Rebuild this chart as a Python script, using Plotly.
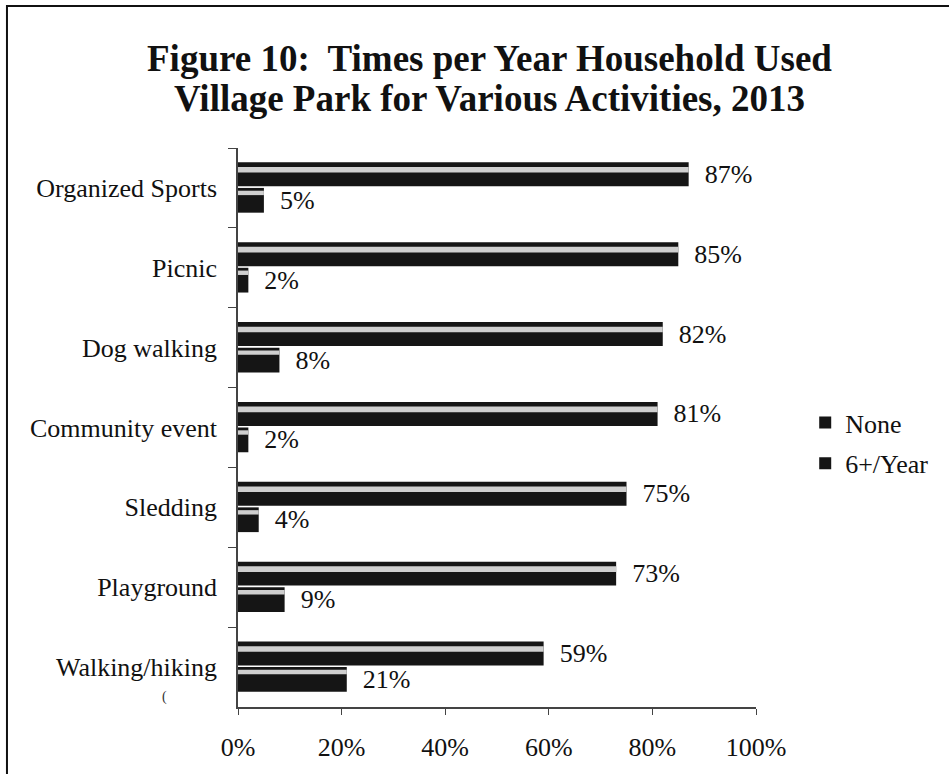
import plotly.graph_objects as go

# Survey results: share of households by frequency of park use
activities = ["Organized Sports", "Picnic", "Dog walking", "Community event",
              "Sledding", "Playground", "Walking/hiking"]
none_pct = [87, 85, 82, 81, 75, 73, 59]
six_plus_pct = [5, 2, 8, 2, 4, 9, 21]
series_names = ["None", "6+/Year"]
x_ticks = [0, 20, 40, 60, 80, 100]
x_tick_labels = ["0%", "20%", "40%", "60%", "80%", "100%"]
title_lines = ["Figure 10:  Times per Year Household Used",
               "Village Park for Various Activities, 2013"]

SERIF = "Liberation Serif, Times New Roman, serif"
DARK = "#151515"
SHINE = "#cfcfcf"
FS = 26

fig = go.Figure()

# main dark bars with value labels
for name, vals, off, wid in [(series_names[0], none_pct, -0.32, 0.30),
                             (series_names[1], six_plus_pct, 0.0, 0.31)]:
    fig.add_trace(go.Bar(
        name=name, y=activities, x=vals, orientation="h",
        offset=off, width=wid,
        marker=dict(color=DARK, line=dict(width=0)),
        text=[f"\u00a0\u00a0{v}%" for v in vals],
        textposition="outside", cliponaxis=False, constraintext="none",
        textfont=dict(family=SERIF, size=FS, color="#111"),
        legendgroup=name,
    ))

# light glossy streak along the top of each bar
for vals, off, wid in [(none_pct, -0.262, 0.07), (six_plus_pct, 0.035, 0.055)]:
    fig.add_trace(go.Bar(
        y=activities, x=vals, orientation="h",
        offset=off, width=wid,
        marker=dict(color=SHINE, line=dict(width=0)),
        showlegend=False, hoverinfo="skip",
    ))

fig.update_layout(
    width=949, height=774,
    barmode="overlay",
    paper_bgcolor="white", plot_bgcolor="white",
    margin=dict(l=238, r=193, t=148, b=63),
    font=dict(family=SERIF, size=FS, color="#111"),
    showlegend=True,
    legend=dict(
        x=1.095, xanchor="left", y=0.472, yanchor="middle",
        font=dict(family=SERIF, size=FS, color="#111"),
        traceorder="grouped", tracegroupgap=4,
        itemwidth=30, bgcolor="rgba(0,0,0,0)",
    ),
    xaxis=dict(
        range=[0, 100], tickvals=x_ticks, ticktext=x_tick_labels,
        showgrid=False, zeroline=False,
        showline=True, linecolor="#444", linewidth=1.5,
        ticks="outside", ticklen=6, tickcolor="#444",
        ticklabelstandoff=10,
        tickfont=dict(family=SERIF, size=FS, color="#111"),
    ),
    yaxis=dict(
        categoryorder="array", categoryarray=activities,
        autorange="reversed",
        showgrid=False, zeroline=False,
        showline=True, linecolor="#444", linewidth=1.5,
        ticks="outside", ticklen=8, tickcolor="#444", tickson="boundaries",
        ticklabelstandoff=14,
        tickfont=dict(family=SERIF, size=FS, color="#111"),
    ),
)

# two-line bold heading
for line, ypos in zip(title_lines, [1.16, 1.089]):
    fig.add_annotation(text=f"<b>{line}</b>", xref="paper", yref="paper",
                       x=0.486, y=ypos, xanchor="center", yanchor="middle",
                       showarrow=False,
                       font=dict(family=SERIF, size=37, color="#111"))

# page frame (left and top edges visible)
fig.add_shape(type="rect", xref="paper", yref="paper",
              x0=-0.446, x1=1.6, y0=-0.2, y1=1.254,
              line=dict(color="#111", width=2), fillcolor="rgba(0,0,0,0)",
              layer="below")

fig.add_annotation(text="(", xref="paper", yref="paper", x=-0.15, y=0.0,
                   showarrow=False,
                   font=dict(family=SERIF, size=14, color="#333"))

fig.write_html("out.html")
